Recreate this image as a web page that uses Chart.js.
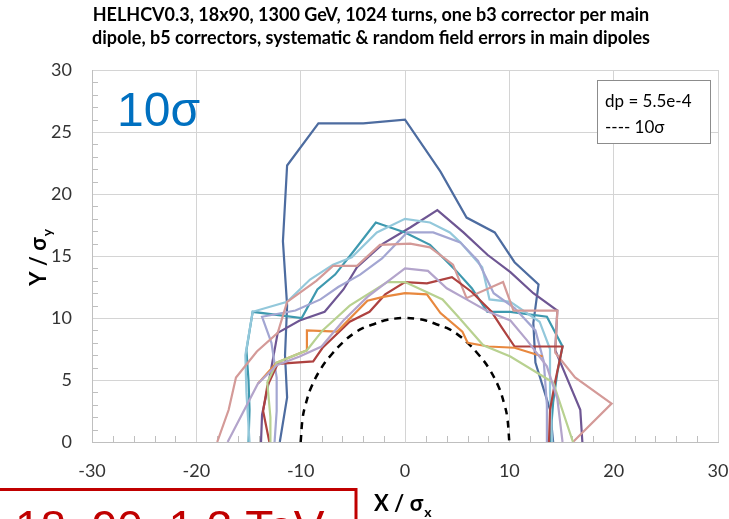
<!DOCTYPE html>
<html>
<head>
<meta charset="utf-8">
<script src="https://cdn.jsdelivr.net/npm/chart.js@4.4.1/dist/chart.umd.min.js"></script>
<style>
  html, body { margin: 0; padding: 0; background: #fff; }
  #wrap { width: 729px; height: 519px; }
</style>
</head>
<body>
<div id="wrap"><canvas id="da" width="729" height="519"></canvas></div>
<script>
// axis ticks
const xTicks = [-30, -20, -10, 0, 10, 20, 30];
const yTicks = [0, 5, 10, 15, 20, 25, 30];

// dynamic aperture curves (X / sigma_x, Y / sigma_y)
const blueX = [-12.0, -11.3, -11.5, -11.3, -11.7, -11.3, -8.3, -4.0, 0, 3.4, 5.9, 8.6, 10.5, 12.8, 12.3, 12.5, 13.9, 14.2];
const blueY = [0, 3.6, 7.0, 11.0, 16.2, 22.3, 25.7, 25.7, 26.0, 21.8, 18.1, 16.9, 14.5, 12.7, 9.6, 6.4, 2.6, 0];

const tealX = [-15.0, -14.9, -15.0, -15.2, -14.6, -9.9, -8.4, -6.7, -5.0, -2.8, 0, 2.4, 4.8, 6.4, 7.9, 10.1, 13.6, 15.1, 14.6, 14.2, 13.9];
const tealY = [0, 2.6, 5.0, 7.4, 10.5, 10.0, 12.3, 13.5, 15.3, 17.7, 16.9, 15.9, 13.9, 12.4, 10.5, 10.5, 10.1, 7.7, 5.6, 3.2, 0];

const lightBlueX = [-14.9, -15.2, -15.3, -14.6, -11.3, -9.1, -6.9, -5.1, -2.7, 0, 2.4, 4.3, 5.3, 7.4, 8.1, 10.1, 12.9, 13.9, 13.9, 14.1];
const lightBlueY = [0, 4.0, 7.0, 10.5, 11.3, 13.1, 14.3, 14.9, 16.9, 18.0, 17.7, 16.9, 16.1, 14.1, 11.5, 11.3, 9.7, 7.5, 4.0, 0];

const purpleX = [-13.8, -13.7, -13.2, -12.2, -10.1, -7.7, -5.9, -4.6, -2.1, 0.5, 3.1, 5.6, 7.9, 10.1, 12.3, 14.6, 14.4, 15.1, 16.8, 17.0];
const purpleY = [0, 2.2, 4.2, 8.8, 9.8, 10.5, 12.3, 14.1, 16.0, 17.3, 18.7, 16.9, 15.1, 13.7, 12.0, 10.6, 7.4, 6.0, 2.6, 0];

const pinkX = [-18.0, -16.9, -16.2, -14.2, -12.2, -11.3, -8.5, -6.9, -4.6, -2.4, 0.5, 2.4, 4.6, 5.9, 9.4, 10.4, 14.6, 14.4, 16.3, 19.8, 16.1];
const pinkY = [0, 2.6, 5.2, 7.3, 8.8, 11.3, 13.0, 14.2, 14.2, 15.9, 16.0, 15.7, 14.3, 11.6, 12.9, 10.6, 10.6, 7.2, 5.2, 3.1, 0];

const lavenderX = [-12.5, -12.3, -12.3, -12.8, -13.7, -10.5, -8.1, -6.4, -4.3, -2.2, 0.2, 2.7, 5.3, 7.0, 8.5, 10.5, 12.5, 13.3, 13.6, 13.6];
const lavenderY = [0, 2.5, 5.2, 8.0, 10.1, 10.6, 11.5, 12.5, 13.5, 14.8, 16.9, 16.9, 16.1, 14.6, 12.0, 10.8, 9.0, 6.5, 3.0, 0];

const lilacX = [-17.0, -14.1, -12.3, -10.1, -8.0, -5.9, -3.6, -1.9, 0, 2.2, 4.0, 5.9, 8.0, 10.1, 11.7, 13.6, 14.6, 15.1];
const lilacY = [0, 4.7, 6.2, 6.9, 7.7, 9.8, 11.7, 12.8, 14.0, 13.8, 12.4, 11.5, 10.5, 9.8, 8.2, 6.1, 3.5, 0];

const redX = [-13.0, -13.6, -13.2, -12.2, -8.8, -7.9, -5.3, -3.4, -1.9, 0, 2.1, 4.5, 6.4, 8.3, 9.3, 10.5, 15.1, 14.4, 13.9, 13.8];
const redY = [0, 2.5, 4.5, 6.3, 6.5, 7.6, 9.7, 10.5, 11.9, 12.9, 12.8, 13.3, 12.1, 10.5, 9.2, 7.7, 7.7, 4.9, 2.6, 0];

const orangeX = [-14.1, -12.3, -9.4, -9.4, -6.5, -5.0, -3.6, -2.1, 0, 2.1, 3.4, 5.5, 6.0, 8.0, 10.5, 13.2];
const orangeY = [4.7, 6.4, 7.4, 9.0, 8.9, 10.2, 11.4, 11.7, 12.0, 11.9, 10.4, 8.9, 8.0, 7.7, 7.6, 6.9];

const greenX = [-12.9, -12.9, -13.2, -12.3, -9.4, -7.9, -5.3, -1.7, 0, 3.6, 5.1, 7.5, 10.1, 14.2, 16.1];
const greenY = [0, 2.0, 4.8, 6.4, 7.4, 9.0, 11.0, 12.9, 12.9, 11.5, 10.1, 7.8, 6.9, 4.8, 0];

// 10 sigma reference arc (dashed)
const arcX = [-10, -9.8, -9.5, -9, -8, -7, -6, -5, -4, -3, -2, -1, 0, 1, 2, 3, 4, 5, 6, 7, 8, 9, 9.5, 9.8, 10];
const arcY = [0, 2.0, 3.1, 4.4, 6.0, 7.1, 8.0, 8.7, 9.2, 9.5, 9.8, 9.95, 10, 9.95, 9.8, 9.5, 9.2, 8.7, 8.0, 7.1, 6.0, 4.4, 3.1, 2.0, 0];

const FONT = 'Lato, "Open Sans", "Liberation Sans", sans-serif';

function pts(xs, ys) {
  return xs.map((x, i) => ({ x: x, y: ys[i] }));
}

function curve(xs, ys, color) {
  return {
    data: pts(xs, ys),
    borderColor: color,
    borderWidth: 2.2,
    showLine: true,
    pointRadius: 0,
    tension: 0,
    fill: false,
  };
}

// extra drawing: titles, minor ticks, text box, labels
const decor = {
  id: 'decor',
  beforeDatasetsDraw(chart) {
    const { ctx, chartArea: a, scales: { x, y } } = chart;
    ctx.save();
    ctx.strokeStyle = '#bfbfbf';
    ctx.lineWidth = 1;
    ctx.beginPath();
    for (let v = -30; v <= 30; v += 2) {
      if (v % 10 === 0) continue;
      const px = Math.round(x.getPixelForValue(v)) + 0.5;
      ctx.moveTo(px, a.bottom);
      ctx.lineTo(px, a.bottom - 6);
    }
    for (let v = 0; v <= 30; v += 1) {
      if (v % 5 === 0) continue;
      const py = Math.round(y.getPixelForValue(v)) + 0.5;
      ctx.moveTo(a.left, py);
      ctx.lineTo(a.left + 6, py);
    }
    ctx.stroke();
    ctx.restore();
  },
  afterDraw(chart) {
    const { ctx } = chart;
    ctx.save();
    // title
    ctx.fillStyle = '#000';
    ctx.textAlign = 'center';
    ctx.textBaseline = 'alphabetic';
    ctx.font = 'bold 18px ' + FONT;
    ctx.fillText('HELHCV0.3, 18x90, 1300 GeV, 1024 turns, one b3 corrector per main', 371, 21);
    ctx.fillText('dipole, b5 correctors, systematic & random field errors in main dipoles', 371, 44);

    // big 10 sigma
    ctx.textAlign = 'left';
    ctx.fillStyle = '#0070C0';
    ctx.font = '48px "Liberation Sans", Arial, sans-serif';
    ctx.fillText('10\u03C3', 117, 126);

    // text box
    ctx.fillStyle = '#fff';
    ctx.fillRect(597, 80, 113, 63);
    ctx.strokeStyle = '#8c8c8c';
    ctx.lineWidth = 1;
    ctx.strokeRect(597.5, 80.5, 113, 63);
    ctx.fillStyle = '#000';
    ctx.font = '17px ' + FONT;
    ctx.fillText('dp = 5.5e-4', 605, 107);
    ctx.fillText('---- 10\u03C3', 605, 133);

    // axis titles
    ctx.font = 'bold 22px ' + FONT;
    ctx.fillText('X / \u03C3', 374, 511);
    const wx = ctx.measureText('X / \u03C3').width;
    ctx.font = 'bold 14px ' + FONT;
    ctx.fillText('x', 374 + wx + 1, 517);

    ctx.translate(46, 257);
    ctx.rotate(-Math.PI / 2);
    ctx.font = 'bold 22px ' + FONT;
    const wy = ctx.measureText('Y / \u03C3').width;
    const ws = 9;
    ctx.fillText('Y / \u03C3', -(wy + ws) / 2, 0);
    ctx.font = 'bold 14px ' + FONT;
    ctx.fillText('y', -(wy + ws) / 2 + wy + 1, 6);
    ctx.setTransform(1, 0, 0, 1, 0, 0);

    // red note box (cut by the bottom edge)
    ctx.fillStyle = '#fff';
    ctx.fillRect(0, 489, 357, 40);
    ctx.strokeStyle = '#C00000';
    ctx.lineWidth = 3;
    ctx.strokeRect(-2, 489.5, 358, 50);
    ctx.fillStyle = '#C00000';
    ctx.font = '46px "Liberation Sans", Arial, sans-serif';
    ctx.fillText('18, 90, 1.3 TeV', 15, 543);
    ctx.restore();
  },
};

new Chart(document.getElementById('da'), {
  type: 'scatter',
  data: {
    datasets: [
      curve(lilacX, lilacY, '#B3A4CB'),
      curve(greenX, greenY, '#B8D190'),
      curve(orangeX, orangeY, '#E8883E'),
      curve(redX, redY, '#AE4240'),
      curve(pinkX, pinkY, '#D49A98'),
      curve(lavenderX, lavenderY, '#A3A6D2'),
      curve(lightBlueX, lightBlueY, '#93C8DB'),
      curve(tealX, tealY, '#3E99AF'),
      curve(purpleX, purpleY, '#6E5693'),
      curve(blueX, blueY, '#4D6CA0'),
      {
        data: pts(arcX, arcY),
        borderColor: '#000',
        borderWidth: 2.5,
        borderDash: [7, 6],
        showLine: true,
        pointRadius: 0,
        tension: 0.4,
        fill: false,
      },
    ],
  },
  options: {
    responsive: false,
    animation: false,
    layout: { padding: { top: 70, right: 11, left: 0, bottom: 0 } },
    plugins: {
      legend: { display: false },
      title: { display: false },
      tooltip: { enabled: false },
    },
    scales: {
      x: {
        type: 'linear',
        min: -30,
        max: 30,
        afterFit(scale) {
          scale.height = 77;
          scale.paddingLeft = 0;
          scale.paddingRight = 0;
        },
        afterBuildTicks(scale) { scale.ticks = xTicks.map(v => ({ value: v })); },
        ticks: { color: '#333', padding: 18, font: { family: FONT, size: 18 } },
        grid: { color: '#d4d4d4', drawTicks: false },
        border: { color: '#bfbfbf' },
      },
      y: {
        type: 'linear',
        min: 0,
        max: 30,
        afterFit(scale) { scale.width = 92; },
        afterBuildTicks(scale) { scale.ticks = yTicks.map(v => ({ value: v })); },
        ticks: { color: '#333', padding: 20, font: { family: FONT, size: 18 } },
        grid: { color: '#d4d4d4', drawTicks: false },
        border: { color: '#bfbfbf' },
      },
    },
  },
  plugins: [decor],
});
</script>
</body>
</html>
